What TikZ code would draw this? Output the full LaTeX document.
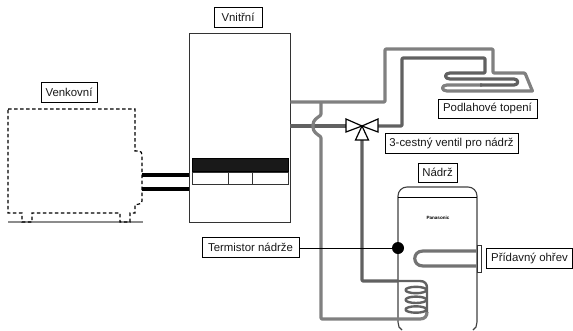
\documentclass[tikz,border=0pt]{standalone}
\usepackage{fontspec}
\setmainfont{Liberation Sans}
\tikzset{
  lbl/.style={draw=black,line width=1pt,fill=white,inner sep=0pt,font=\fontsize{11.4}{13}\selectfont,text=black!90,anchor=center},
  unit/.style={draw=black!75,line width=0.9pt,fill=white},
  lightpipe/.style={draw=black!50,line width=3.2pt,line join=round},
  darkpipe/.style={draw=black!62,line width=3.2pt,line join=round},
  coilpipe/.style={draw=black!62,line width=2.4pt,line join=round},
  refpipe/.style={draw=black,line width=3.2pt},
  dashline/.style={draw=black,line width=1.2pt,dash pattern=on 3.5pt off 2.5pt},
  valvepart/.style={draw=black,line width=1.2pt,fill=white,line join=miter}
}
\begin{document}
\begin{tikzpicture}[x=1pt,y=-1pt]
\useasboundingbox (0,0) rectangle (573,330);
% outdoor unit
\draw[black!45,line width=1.4pt] (8,222) -- (143,222);
\draw[dashline] (8,109) -- (135,109) -- (135,151) -- (139,151) .. controls (141,151) and (142,153) .. (142,155) -- (142,201) .. controls (142,203) and (141,204) .. (139,204) -- (135,205) -- (135,213) -- (130,213) -- (130,222) -- (120,222) -- (120,213) -- (32,213) -- (32,222) -- (22,222) -- (22,213) -- (8,213) -- cycle;
\coordinate (outA) at (142,175);
\coordinate (outB) at (142,189);
% indoor unit
\node[unit,draw=black!80,minimum width=101pt,minimum height=189pt,inner sep=0pt] (indoor) at (239.5,127.5) {};
\node[draw=black,fill=black!90,line width=0.9pt,minimum width=96pt,minimum height=13pt,inner sep=0pt] (band) at (240,165) {};
\node[draw=black!80,fill=white,line width=0.9pt,minimum width=96pt,minimum height=12pt,inner sep=0pt] (panel) at (240,178) {};
\draw[black!80,line width=0.9pt] (228,172) -- (228,184) (252,172) -- (252,184);
\draw[refpipe] (outA) -- (indoor.west |- outA);
\draw[refpipe] (outB) -- (indoor.west |- outB);
% floor heating
\coordinate (vC) at (362,126);
\coordinate (vL) at (346,126);
\coordinate (vR) at (378,126);
\coordinate (tee) at (321,102);
\draw[lightpipe,rounded corners=1pt] (indoor.east |- tee) -- (385,102) -- (385,49) -- (493,49) -- (493,73) -- (522,73) -- (525,73) -- (532,90) .. controls (532.5,91) and (532,91) .. (531,91) -- (448,91) .. controls (441,91) and (441,85) .. (448,85) -- (482,85);
\draw[darkpipe,rounded corners=1pt] (vR) -- (402,126) -- (402,58) -- (485,58) -- (485,73) -- (451,73) .. controls (444,73) and (444,79) .. (451,79) -- (513,79) .. controls (519,79) and (519,85) .. (513,85) -- (480,85);
\draw[darkpipe] (indoor.east |- vC) -- (vL);
% tank
\draw[black!75,line width=1.1pt] (402,330) -- (399,327) -- (398,322) -- (398,196) .. controls (398,191) and (402,187) .. (407,187) -- (468,187) .. controls (473,187) and (477,191) .. (477,196) -- (477,322) -- (476,327) -- (473,330);
\draw[black,line width=0.9pt] (398,197) -- (477,197);
\node[font=\fontsize{4.6}{5}\selectfont\bfseries,inner sep=0pt] (brand) at (438,218) {Panasonic};
% return to tank coil
\draw[lightpipe,rounded corners=1pt] (tee) -- (321,115) .. controls (317,118) and (313,120) .. (313,126) .. controls (313,132) and (317,134) .. (321,137) -- (321,319) -- (398,319);
\draw[lightpipe] (398,319) -- (420,319) .. controls (425,319) and (427,316) .. (427,312);
\draw[darkpipe,rounded corners=1pt] (362,140) -- (362,281) -- (398,281);
\draw[coilpipe] (398,281) -- (420,281) .. controls (425,281) and (427,284) .. (427,288) -- (427,312);
\draw[coilpipe] (416,290) ellipse [x radius=10.5, y radius=3.2];
\draw[coilpipe] (416,299.8) ellipse [x radius=10.5, y radius=3.2];
\draw[coilpipe] (416,309.5) ellipse [x radius=10.5, y radius=3.2];
% valve
\draw[valvepart] (vC) -- (346,119) -- (346,132) -- cycle;
\draw[valvepart] (vC) -- (378,119) -- (378,132) -- cycle;
\draw[valvepart] (vC) -- (355.5,140) -- (368.5,140) -- cycle;
% heater
\node[draw=black!80,fill=white,line width=0.9pt,minimum width=4pt,minimum height=27pt,inner sep=0pt] (heater) at (479,258.5) {};
\coordinate (hA) at (423,251);
\coordinate (hB) at (423,266);
\draw[lightpipe,draw=black!55] (heater.west |- hA) -- (hA) .. controls (412,251) and (412,266) .. (hB) -- (heater.west |- hB);
% sensor
\node[circle,fill=black,minimum size=12pt,inner sep=0pt] (sensor) at (398,248) {};
% labels
\node[lbl,minimum width=56pt,minimum height=19.5pt] (lVenk) at (69,92.5) {Venkovní};
\node[lbl,minimum width=48pt,minimum height=20pt] (lVnit) at (238,17) {Vnitřní};
\node[lbl,minimum width=99pt,minimum height=19pt] (lPodl) at (487.5,108.5) {Podlahové topení};
\node[lbl,minimum width=133pt,minimum height=20pt] (lVent) at (451.5,143) {3-cestný ventil pro nádrž};
\node[lbl,minimum width=39pt,minimum height=19pt] (lNadr) at (437.5,172.5) {Nádrž};
\node[lbl,minimum width=86pt,minimum height=20pt] (lPrid) at (529.5,258) {Přídavný ohřev};
\node[lbl,minimum width=97pt,minimum height=20pt] (lTerm) at (250.5,247.5) {Termistor nádrže};
\draw[black,line width=0.9pt] (lTerm.east |- sensor) -- (sensor);
\end{tikzpicture}
\end{document}
